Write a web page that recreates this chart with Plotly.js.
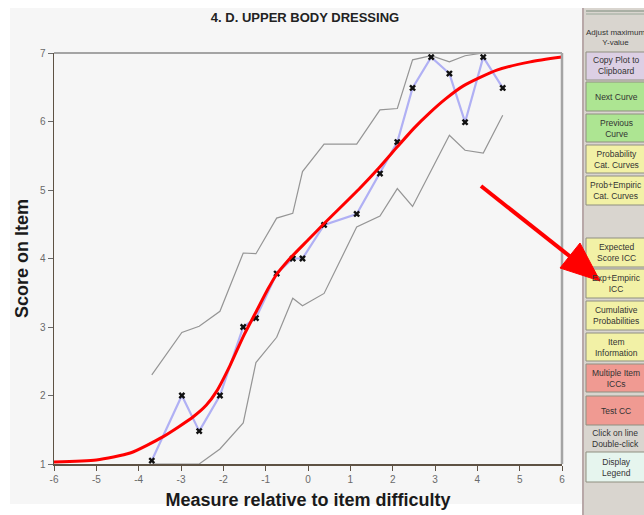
<!DOCTYPE html>
<html>
<head>
<meta charset="utf-8">
<script src="https://cdn.plot.ly/plotly-3.0.1.min.js"></script>
<style>html,body{margin:0;padding:0;background:#fff;}#chart{width:644px;height:515px;}</style>
</head>
<body>
<div id="chart"></div>
<script>
// ---- data ----
const measures   = [-3.69,-2.98,-2.57,-2.08,-1.53,-1.23,-0.74,-0.36,-0.13,0.38,1.15,1.70,2.11,2.47,2.91,3.34,3.71,4.14,4.60];
const empirical  = [1.05,2.00,1.48,2.00,3.00,3.13,3.78,4.00,4.00,4.49,4.65,5.24,5.70,6.49,6.94,6.70,5.99,6.94,6.49];
const upperBand  = [2.30,2.92,3.01,3.23,4.08,4.07,4.59,4.66,5.27,5.67,5.67,6.17,6.19,6.90,6.96,6.87,6.96,7.00,7.00];
const lowerBand  = [1.00,1.00,1.00,1.22,1.60,2.48,2.85,3.42,3.31,3.49,4.46,4.62,5.02,4.76,5.28,5.80,5.58,5.54,6.09];
const curveX     = [-6,-5,-4.2,-3.42,-2.71,-2.4,-2.16,-1.84,-1.53,-1.21,-0.95,-0.74,-0.5,-0.35,0,0.38,1.23,1.70,2.11,2.5,2.88,3.25,3.67,4.46,5.25,6];
const curveY     = [1.03,1.06,1.16,1.40,1.69,1.86,2.06,2.44,2.86,3.24,3.55,3.77,3.95,4.05,4.27,4.51,5.03,5.34,5.63,5.90,6.13,6.33,6.52,6.75,6.87,6.94];
const xTickVals  = [-6,-5,-4,-3,-2,-1,0,1,2,3,4,5,6];
const xTickText  = ['-6','-5','-4','-3','-2','-1','0','1','2','3','4','5','6'];
const yTickVals  = [1,2,3,4,5,6,7];
const chartTitle = '4. D. UPPER BODY DRESSING';
const xTitle     = 'Measure relative to item difficulty';
const yTitle     = 'Score on Item';
const buttonLabels = ['Copy Plot to<br>Clipboard','Next Curve','Previous<br>Curve','Probability<br>Cat. Curves','Prob+Empiric<br>Cat. Curves',
  'Expected<br>Score ICC','Exp+Empiric<br>ICC','Cumulative<br>Probabilities','Item<br>Information','Multiple Item<br>ICCs','Test CC','Display<br>Legend'];

// ---- layout geometry (pixels) ----
const FW = 644, FH = 515, L = 54, T = 53, R = 562, B = 464;
const W = R - L, H = B - T;
const px = x => (x - L) / W;
const py = y => (B - y) / H;

const btnTop    = [52, 82, 114, 145, 176, 238, 269, 301, 333, 364, 396, 452];
const btnBottom = [80, 111, 142, 173, 205, 267, 298, 330, 361, 392, 425, 482];
const btnFill   = ['#dccfe4','#ade592','#ade592','#f2f1a6','#f2f1a6','#f2f1a6','#f2f1a6','#f2f1a6','#f2f1a6','#f09a92','#f09a92','#e6f5ee'];

const panelFont = {family:'Liberation Sans, Arial', size:8.5, color:'#333'};
const shapes = [];
const annotations = [];
// grey canvas behind the plot
shapes.push({type:'rect', xref:'paper', yref:'paper', x0:px(10), x1:px(583), y0:py(504), y1:py(8), fillcolor:'#f6f6f6', line:{width:0}, layer:'below'});
// side panel
shapes.push({type:'rect', xref:'paper', yref:'paper', x0:px(583), x1:px(660), y0:py(515), y1:py(8), fillcolor:'#d9d5cf', line:{width:0}, layer:'below'});
shapes.push({type:'line', xref:'paper', yref:'paper', x0:px(583), x1:px(583), y0:py(515), y1:py(8), line:{color:'#b8a8a8', width:2}});
shapes.push({type:'line', xref:'paper', yref:'paper', x0:px(586), x1:px(660), y0:py(11), y1:py(11), line:{color:'#7a8a7a', width:1}});
shapes.push({type:'line', xref:'paper', yref:'paper', x0:px(586), x1:px(660), y0:py(14), y1:py(14), line:{color:'#9aa89a', width:1}});
annotations.push({xref:'paper', yref:'paper', x:px(615), y:py(38), xanchor:'center', yanchor:'middle', text:'Adjust maximum<br>Y-value', showarrow:false,
  font:{family:'Liberation Sans, Arial', size:8, color:'#333'}, align:'center'});
annotations.push({xref:'paper', yref:'paper', x:px(615), y:py(438), xanchor:'center', yanchor:'middle', text:'Click on line<br>Double-click', showarrow:false, font:panelFont, align:'center'});
buttonLabels.forEach((lab, i) => {
  shapes.push({type:'rect', xref:'paper', yref:'paper', x0:px(586), x1:px(662), y0:py(btnBottom[i]), y1:py(btnTop[i]), fillcolor:btnFill[i], line:{color:'#8f8f80', width:1}});
  annotations.push({xref:'paper', yref:'paper', x:px(616), y:py((btnTop[i]+btnBottom[i])/2), xanchor:'center', yanchor:'middle', text:lab, showarrow:false,
    font:panelFont, align:'center'});
});
// plot frame (top and right in grey)
shapes.push({type:'line', xref:'paper', yref:'paper', x0:0, x1:1, y0:1, y1:1, line:{color:'#a4a4a4', width:2}});
shapes.push({type:'line', xref:'paper', yref:'paper', x0:1, x1:1, y0:0, y1:1, line:{color:'#a4a4a4', width:2.5}});
// red arrow
shapes.push({type:'line', xref:'paper', yref:'paper', x0:px(481), y0:py(186), x1:px(572), y1:py(258), line:{color:'#ff0000', width:4}});
shapes.push({type:'path', xref:'paper', yref:'paper',
  path:`M ${px(600)} ${py(281)} L ${px(580)} ${py(243)} L ${px(560)} ${py(268)} Z`, fillcolor:'#ff0000', line:{color:'#ff0000', width:1}});

const traces = [
  {x: measures, y: upperBand, mode:'lines', line:{color:'#959595', width:1.2}, hoverinfo:'skip'},
  {x: measures, y: lowerBand, mode:'lines', line:{color:'#959595', width:1.2}, hoverinfo:'skip'},
  {x: measures, y: empirical, mode:'lines+markers', line:{color:'#b0b0f4', width:2.2},
   marker:{symbol:'x', size:6, color:'#111', line:{width:0}}},
  {x: curveX, y: curveY, mode:'lines', line:{color:'#ff0000', width:3, shape:'spline', smoothing:0.6}}
];

const layout = {
  width: FW, height: FH,
  margin: {l: L, r: FW - R, t: T, b: FH - B, pad: 0},
  paper_bgcolor: '#ffffff',
  plot_bgcolor: 'rgba(0,0,0,0)',
  showlegend: false,
  title: {text: chartTitle, x: 305/FW, xref:'container', xanchor:'center', y: 1 - 17/FH, yref:'container', yanchor:'middle',
          font: {family:'Liberation Sans, Arial', size: 13, color:'#222', weight: 'bold'}},
  xaxis: {range:[-6,6], tickvals: xTickVals, ticktext: xTickText, showgrid:false, zeroline:false,
          showline:true, linecolor:'#5e5244', linewidth:1.5, ticks:'outside', ticklen:5, tickcolor:'#5e5244', tickwidth:1,
          tickfont:{family:'Liberation Sans, Arial', size:10, color:'#6a6a6a'},
          title:{text:xTitle, standoff:10, font:{family:'Liberation Sans, Arial', size:18, color:'#1a1a1a', weight:'bold'}}},
  yaxis: {range:[1,7], tickvals: yTickVals, showgrid:false, zeroline:false,
          showline:true, linecolor:'#5e5244', linewidth:1.5, ticks:'outside', ticklen:5, tickcolor:'#6a6a6a', tickwidth:1,
          tickfont:{family:'Liberation Sans, Arial', size:10, color:'#6a6a6a'},
          title:{text:yTitle, standoff:6, font:{family:'Liberation Sans, Arial', size:18, color:'#1a1a1a', weight:'bold'}}},
  shapes: shapes,
  annotations: annotations
};

Plotly.newPlot('chart', traces, layout, {staticPlot:true, displayModeBar:false});
</script>
</body>
</html>
